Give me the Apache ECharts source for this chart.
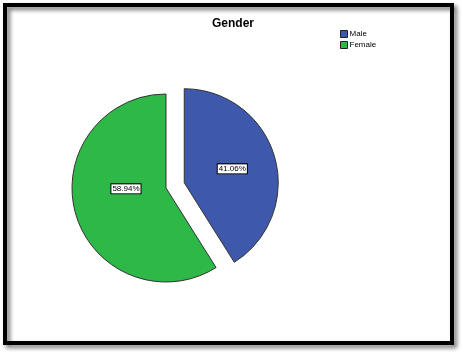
<!DOCTYPE html>
<html>
<head>
<meta charset="utf-8">
<script src="https://cdn.jsdelivr.net/npm/echarts@6/dist/echarts.min.js"></script>
<style>
html,body{margin:0;padding:0;background:#fff;}
#chart{width:463px;height:356px;}
</style>
</head>
<body>
<div id="chart"></div>
<script>
const title = 'Gender';
const categories = ['Male', 'Female'];
const values = [41.06, 58.94];
const colors = ['#3E58AC', '#2EB848'];

const chart = echarts.init(document.getElementById('chart'), null, {renderer: 'canvas'});
const data = categories.map((c, i) => ({
  name: c,
  value: values[i],
  selected: i === 0,
  itemStyle: {color: colors[i]},
  label: i === 1 ? {offset: [8, -13]} : {offset: [2, 8]}
}));

chart.setOption({
  animation: false,
  backgroundColor: '#fff',
  title: {
    text: title,
    left: 228,
    textAlign: 'center',
    top: 13,
    textStyle: {fontFamily: 'Liberation Sans', fontSize: 12, fontWeight: 'bold', color: '#000'}
  },
  legend: {
    orient: 'vertical',
    left: 340,
    top: 30,
    padding: 0,
    itemWidth: 7,
    itemHeight: 7,
    itemGap: 3,
    icon: 'rect',
    selectedMode: false,
    textStyle: {fontFamily: 'Liberation Sans', fontSize: 8, color: '#000', padding: [0, 0, 0, -3]},
    itemStyle: {borderColor: '#222', borderWidth: 1},
    data: categories
  },
  graphic: [{
    type: 'rect',
    shape: {x: 5, y: 5, width: 447, height: 338},
    style: {fill: 'none', stroke: '#000', lineWidth: 4,
      shadowColor: 'rgba(0,0,0,0.55)', shadowBlur: 4, shadowOffsetX: 3, shadowOffsetY: 3},
    silent: true, z: 100
  }],
  series: [{
    type: 'pie',
    center: [166, 188],
    radius: 94,
    startAngle: 90,
    clockwise: true,
    selectedMode: 'single',
    selectedOffset: 19,
    emphasis: {disabled: true},
    itemStyle: {borderColor: '#333', borderWidth: 1},
    label: {
      position: 'inside',
      formatter: p => p.value.toFixed(2) + '%',
      fontFamily: 'Liberation Sans',
      fontSize: 8,
      color: '#000',
      backgroundColor: '#fff',
      borderColor: '#000',
      borderWidth: 1,
      padding: [1, 1, 0, 1]
    },
    labelLine: {show: false},
    data: data
  }]
});
</script>
</body>
</html>
